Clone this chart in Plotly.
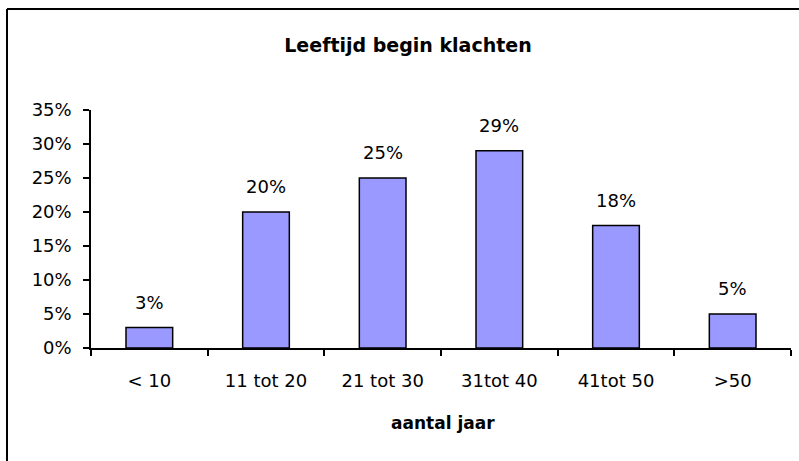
import plotly.graph_objects as go

categories = ["< 10", "11 tot 20", "21 tot 30", "31tot 40", "41tot 50", ">50"]
values = [0.03, 0.20, 0.25, 0.29, 0.18, 0.05]
labels = ["3%", "20%", "25%", "29%", "18%", "5%"]
y_ticks = [0, 0.05, 0.10, 0.15, 0.20, 0.25, 0.30, 0.35]
y_ticklabels = ["0%", "5%", "10%", "15%", "20%", "25%", "30%", "35%"]
title = "Leeftijd begin klachten"
x_title = "aantal jaar"

W, H = 799, 461
L, R, T, B = 91, 8, 110, 113
pw, ph = W - L - R, H - T - B
FONT = "DejaVu Sans"

fig = go.Figure()
fig.add_trace(go.Bar(
    x=categories, y=values,
    marker=dict(color="#9999FF", line=dict(color="black", width=1.5)),
    width=0.4,
    hoverinfo="skip",
))

for c, v, t in zip(categories, values, labels):
    fig.add_annotation(x=c, y=v, text=t, showarrow=False, yanchor="bottom",
                       yshift=13, font=dict(family=FONT, size=18, color="black"))

fig.add_annotation(xref="paper", yref="paper", x=(443 - L) / pw, y=(H - B - 423) / ph,
                   text="<b>" + x_title + "</b>", showarrow=False,
                   xanchor="center", yanchor="middle",
                   font=dict(family=FONT, size=17, color="black"))

# outer frame (top and left edges)
fig.add_shape(type="line", xref="paper", yref="paper",
              x0=(7 - L) / pw, x1=(W + 5 - L) / pw,
              y0=(H - B - 9) / ph, y1=(H - B - 9) / ph,
              line=dict(color="black", width=2))
fig.add_shape(type="line", xref="paper", yref="paper",
              x0=(7 - L) / pw, x1=(7 - L) / pw,
              y0=(H - B - 9) / ph, y1=(H - B - H - 5) / ph,
              line=dict(color="black", width=2))

fig.update_layout(
    width=W, height=H,
    margin=dict(l=L, r=R, t=T, b=B, pad=0),
    paper_bgcolor="white", plot_bgcolor="white",
    showlegend=False,
    title=dict(text="<b>" + title + "</b>", xref="container", yref="container",
               x=408 / W, y=1 - 45 / H, xanchor="center", yanchor="middle",
               font=dict(family=FONT, size=19, color="black")),
    font=dict(family=FONT, size=18, color="black"),
)
fig.update_xaxes(
    showline=True, linecolor="black", linewidth=1.5,
    ticks="outside", tickson="boundaries", ticklen=6, tickwidth=1.5, tickcolor="black",
    showgrid=False, zeroline=False,
    tickfont=dict(family=FONT, size=18, color="black"),
    ticklabelstandoff=16,
)
fig.update_yaxes(
    range=[0, 0.35], tickvals=y_ticks, ticktext=y_ticklabels,
    showline=True, linecolor="black", linewidth=1.5,
    ticks="outside", ticklen=6, tickwidth=1.5, tickcolor="black",
    showgrid=False, zeroline=False,
    tickfont=dict(family=FONT, size=18, color="black"),
    ticklabelstandoff=8,
)

fig.write_html("out.html", config={"displayModeBar": False},
               post_script="document.body.style.margin='0';")
